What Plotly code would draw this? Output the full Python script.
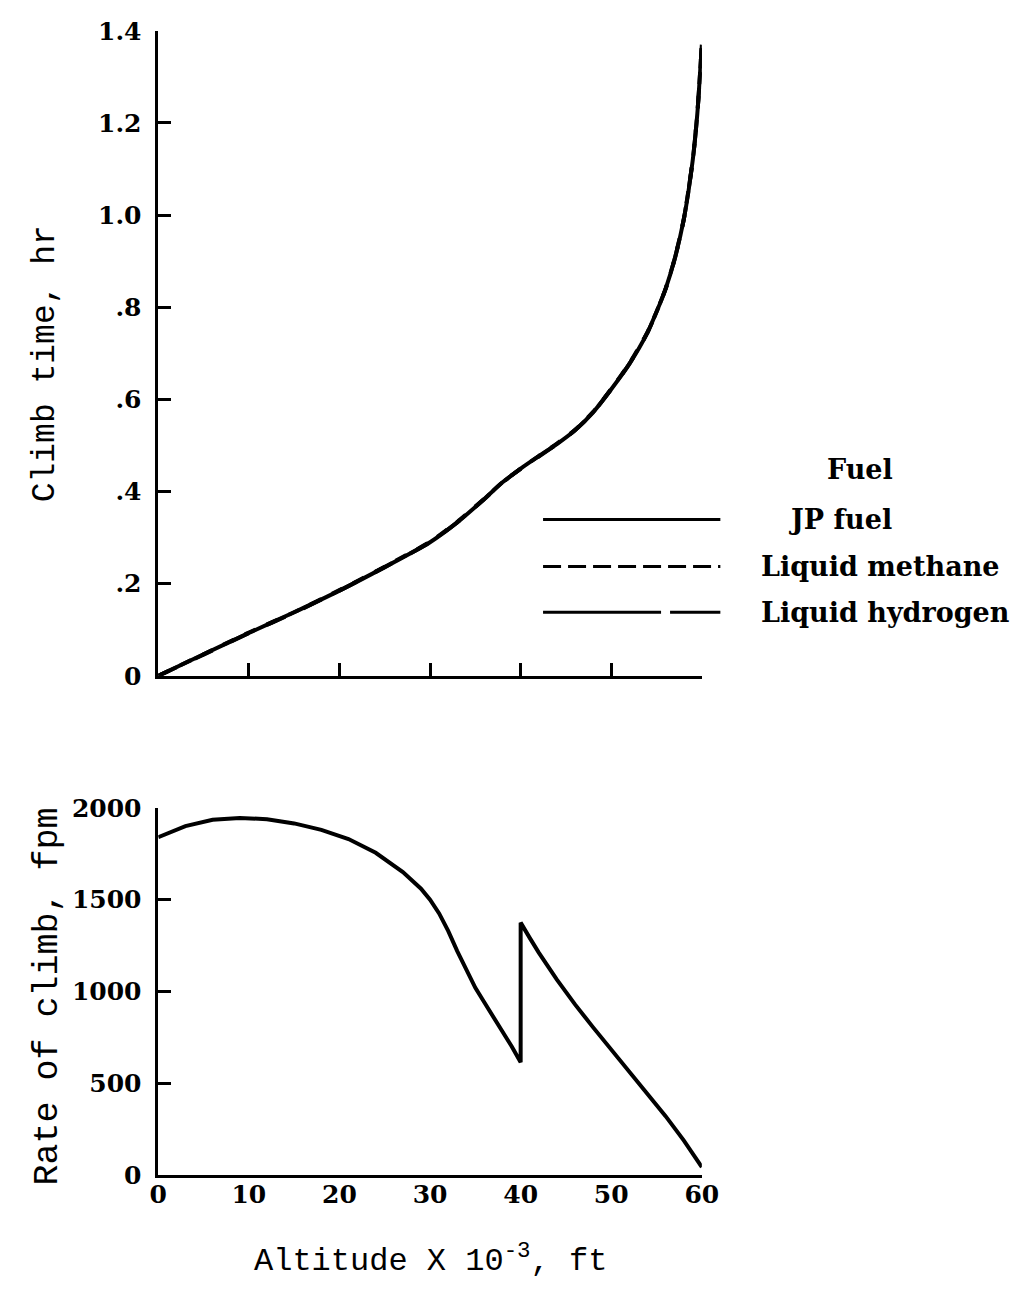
import plotly.graph_objects as go

# ---- data ----
altitude_top = [0, 5, 10, 15, 20, 25, 30, 33, 36, 38, 40, 42, 44, 46, 48, 50, 52, 54, 55, 56, 57, 58, 59, 59.5, 60]
climb_jp = [0, 0.047, 0.093, 0.138, 0.185, 0.236, 0.29, 0.333, 0.384, 0.42, 0.45, 0.477, 0.503, 0.533, 0.572, 0.622,
            0.677, 0.745, 0.79, 0.84, 0.905, 0.99, 1.12, 1.22, 1.37]
climb_methane = [0, 0.047, 0.094, 0.138, 0.186, 0.237, 0.291, 0.334, 0.385, 0.42, 0.45, 0.477, 0.504, 0.534, 0.573, 0.623,
                 0.678, 0.746, 0.79, 0.84, 0.905, 0.99, 1.12, 1.22, 1.37]
climb_hydrogen = [0, 0.046, 0.093, 0.137, 0.185, 0.236, 0.29, 0.333, 0.384, 0.42, 0.449, 0.476, 0.503, 0.533, 0.572, 0.622,
                  0.677, 0.745, 0.79, 0.84, 0.904, 0.99, 1.12, 1.22, 1.37]

altitude_rate = [0, 3, 6, 9, 12, 15, 18, 21, 24, 27, 29, 30, 31, 32, 33, 34, 35, 36, 37, 38, 39, 40,
                 40, 41, 42, 44, 46, 48, 50, 52, 54, 56, 58, 60]
rate_of_climb = [1840, 1900, 1935, 1945, 1938, 1915, 1880, 1830, 1755, 1650, 1560, 1500, 1425, 1330, 1220,
                 1115, 1020, 940, 862, 785, 702, 615,
                 1375, 1292, 1212, 1065, 930, 805, 685, 565, 445, 322, 190, 45]

top_yticks = [0, 0.2, 0.4, 0.6, 0.8, 1.0, 1.2, 1.4]
top_yticktext = ["0", ".2", ".4", ".6", ".8", "1.0", "1.2", "1.4"]
x_ticks = [0, 10, 20, 30, 40, 50, 60]
bottom_yticks = [0, 500, 1000, 1500, 2000]

legend_names = ["JP fuel", "Liquid methane", "Liquid hydrogen"]

# page has an 8px body margin: build the figure 16px smaller and map page pixels into it
OFF = 8
W, H = 1023 - 2 * OFF, 1297 - 2 * OFF
def px_x(p):
    return (p - OFF) / W
def px_y(p):
    return 1 - (p - OFF) / H

serif = "DejaVu Serif"
mono = "Liberation Mono"
tickfont = dict(family=serif, size=25, color="black", weight="bold")

fig = go.Figure()
line_w = 4
fig.add_trace(go.Scatter(x=altitude_top, y=climb_jp, mode="lines", name=legend_names[0],
                         line=dict(color="black", width=line_w, shape="spline", smoothing=0.6),
                         xaxis="x", yaxis="y"))
fig.add_trace(go.Scatter(x=altitude_top, y=climb_methane, mode="lines", name=legend_names[1],
                         line=dict(color="black", width=line_w, dash="dash", shape="spline", smoothing=0.6),
                         xaxis="x", yaxis="y"))
fig.add_trace(go.Scatter(x=altitude_top, y=climb_hydrogen, mode="lines", name=legend_names[2],
                         line=dict(color="black", width=line_w, dash="longdash", shape="spline", smoothing=0.6),
                         xaxis="x", yaxis="y"))
fig.add_trace(go.Scatter(x=altitude_rate, y=rate_of_climb, mode="lines", name="Rate of climb",
                         line=dict(color="black", width=line_w), xaxis="x2", yaxis="y2"))

xdom = [px_x(153), px_x(711)]
axis_common = dict(showline=True, linecolor="black", linewidth=2.5, showgrid=False, zeroline=False,
                   ticklen=13, tickwidth=2.5, tickcolor="black", tickfont=tickfont)

fig.update_layout(
    width=W, height=H,
    paper_bgcolor="white", plot_bgcolor="white",
    margin=dict(l=0, r=0, t=0, b=0),
    showlegend=False,
    xaxis=dict(domain=xdom, range=[0, 60], tickvals=x_ticks[1:], showticklabels=False, ticks="inside",
               anchor="y", **axis_common),
    yaxis=dict(domain=[px_y(677), px_y(17)], range=[0, 1.4], tickvals=top_yticks, ticktext=top_yticktext,
               ticks="inside", anchor="x", ticklabelstandoff=9, **axis_common),
    xaxis2=dict(domain=xdom, range=[0, 60], tickvals=x_ticks, ticks="", anchor="y2",
                ticklabelstandoff=-5, **axis_common),
    yaxis2=dict(domain=[px_y(1188), px_y(812)], range=[0, 2000], tickvals=bottom_yticks,
                ticks="inside", anchor="x2", ticklabelstandoff=9, **axis_common),
)

# axis titles
fig.add_annotation(x=px_x(37), y=px_y(358), xref="paper", yref="paper", text="Climb time, hr",
                   textangle=-90, showarrow=False, xanchor="center", yanchor="middle",
                   font=dict(family=mono, size=33, color="black"))
fig.add_annotation(x=px_x(40), y=px_y(1005), xref="paper", yref="paper", text="Rate of climb, fpm",
                   textangle=-90, showarrow=False, xanchor="center", yanchor="middle",
                   font=dict(family=mono, size=35, color="black"))
fig.add_annotation(x=px_x(432), y=px_y(1274), xref="paper", yref="paper",
                   text="Altitude X 10<sup>-3</sup>, ft", xanchor="center", yanchor="middle",
                   showarrow=False, font=dict(family=mono, size=32, color="black"))

# legend (key)
lfont = dict(family=serif, size=27, color="black", weight="bold")
fig.add_annotation(x=px_x(873), y=px_y(466), xref="paper", yref="paper", text="Fuel",
                   xanchor="center", yanchor="middle", showarrow=False, font=lfont)
legend_rows = [(517, "solid", 798), (565, "18px,7px", 770), (612, "118px,9px,55px,9px", 770)]
for (ypix, dash, tx), name in zip(legend_rows, legend_names):
    fig.add_shape(type="line", xref="paper", yref="paper", x0=px_x(548), x1=px_x(730),
                  y0=px_y(ypix), y1=px_y(ypix), line=dict(color="black", width=3, dash=dash))
    fig.add_annotation(x=px_x(tx), y=px_y(ypix), xref="paper", yref="paper", text=name,
                       xanchor="left", yanchor="middle", showarrow=False, font=lfont)

fig.write_html("out.html")
